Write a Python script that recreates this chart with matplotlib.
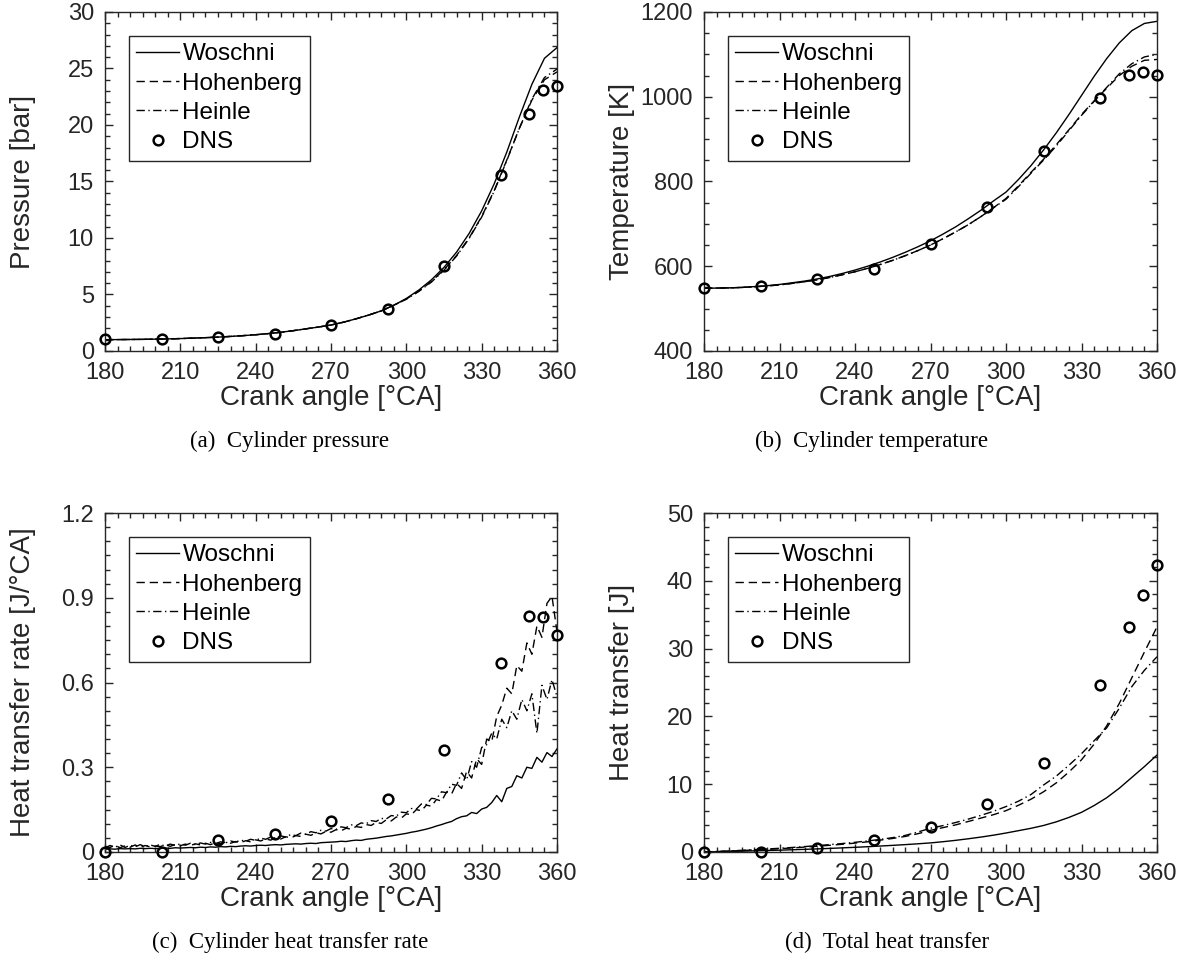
import matplotlib.pyplot as plt
import numpy as np
from matplotlib.ticker import MultipleLocator

plt.rcParams['font.family'] = ['Liberation Sans', 'DejaVu Sans']

# crank angle grid of the model curves (every 5 deg)
angle = [180, 185, 190, 195, 200, 205, 210, 215, 220, 225, 230, 235, 240, 245,
         250, 255, 260, 265, 270, 275, 280, 285, 290, 295, 300, 305, 310, 315,
         320, 325, 330, 335, 340, 345, 350, 355, 360]

# DNS sample angles
dns_angle = [180, 202.5, 225, 247.5, 270, 292.5, 315, 337.5, 348.75, 354.375, 360]

# (a) cylinder pressure [bar]
p_low = [1.00, 1.01, 1.02, 1.03, 1.05, 1.07, 1.10, 1.14, 1.18, 1.23, 1.29, 1.36,
         1.44, 1.54, 1.66, 1.80, 1.96, 2.12, 2.30, 2.55, 2.85, 3.18, 3.55, 4.05]
p_woschni = p_low + [4.65, 5.40, 6.30, 7.40, 8.75, 10.40, 12.40, 14.80, 17.60,
                     20.70, 23.60, 25.90, 26.85]
p_hohenberg = p_low + [4.60, 5.30, 6.15, 7.20, 8.45, 10.00, 11.90, 14.20, 16.90,
                       19.70, 22.20, 24.00, 24.70]
p_heinle = p_low + [4.58, 5.28, 6.10, 7.15, 8.40, 9.95, 11.85, 14.15, 16.85,
                    19.70, 22.30, 24.20, 24.95]
p_dns = [1.03, 1.03, 1.21, 1.47, 2.30, 3.70, 7.55, 15.6, 21.0, 23.1, 23.45]

# (b) cylinder temperature [K]
t_woschni = [548, 548.5, 549, 550, 552, 554, 557, 561, 565, 570, 576, 583, 591,
             600, 610, 621, 633, 646, 660, 676, 693, 712, 732, 754, 775, 805, 838,
             875, 915, 958, 1003, 1048, 1090, 1127, 1156, 1173, 1178]
t_hohenberg = [548, 548.5, 549, 550, 551.5, 553.5, 556, 559.5, 563.5, 568, 573.5,
               580, 587, 595, 604, 614, 625, 637, 650, 665, 681, 698, 717, 738,
               760, 790, 822, 853, 887, 922, 958, 990, 1020, 1050, 1072, 1086, 1088]
t_heinle = [548, 548.5, 549, 550, 551.5, 553.5, 556, 559.5, 563.5, 568, 573.5,
            580, 587, 595, 604, 614, 625, 637, 650, 665, 681, 698, 717, 738,
            758, 788, 820, 851, 884, 920, 956, 989, 1022, 1054, 1078, 1094, 1100]
t_dns = [547.5, 553, 570, 594, 653, 741, 871, 998, 1052, 1059, 1052]

# (c) heat transfer rate [J/degCA], every 2 deg
rate_angle = list(range(180, 361, 2))
q_woschni = [0.010, 0.011, 0.010, 0.012, 0.011, 0.012, 0.011, 0.013, 0.012, 0.013,
             0.012, 0.013, 0.014, 0.013, 0.015, 0.014, 0.015, 0.016, 0.015, 0.017,
             0.016, 0.018, 0.017, 0.019, 0.018, 0.020, 0.019, 0.021, 0.022, 0.021,
             0.023, 0.024, 0.023, 0.025, 0.026, 0.025, 0.027, 0.028, 0.029, 0.028,
             0.030, 0.031, 0.030, 0.033, 0.034, 0.035, 0.036, 0.038, 0.037, 0.040,
             0.042, 0.041, 0.045, 0.047, 0.049, 0.052, 0.055, 0.057, 0.060, 0.063,
             0.066, 0.070, 0.073, 0.077, 0.081, 0.086, 0.092, 0.097, 0.103, 0.108] + \
            [0.118, 0.125, 0.128, 0.140, 0.136, 0.152, 0.158, 0.175, 0.200, 0.178,
             0.225, 0.232, 0.270, 0.262, 0.300, 0.296, 0.335, 0.318, 0.352, 0.338,
             0.365]
q_hohenberg = [0.020, 0.016, 0.024, 0.015, 0.022, 0.017, 0.025, 0.016, 0.023, 0.018,
               0.021, 0.019, 0.026, 0.020, 0.027, 0.022, 0.028, 0.023, 0.029, 0.025,
               0.031, 0.026, 0.033, 0.029, 0.035, 0.031, 0.037, 0.033, 0.040, 0.036,
               0.043, 0.039, 0.046, 0.042, 0.050, 0.046, 0.054, 0.050, 0.058, 0.055,
               0.063, 0.059, 0.068, 0.064, 0.073, 0.070, 0.079, 0.075, 0.084, 0.081,
               0.090, 0.087, 0.097, 0.094, 0.105, 0.101, 0.114, 0.110, 0.124, 0.120,
               0.135, 0.132, 0.150, 0.146, 0.166, 0.162, 0.186, 0.180, 0.212, 0.205] + \
              [0.243, 0.225, 0.285, 0.262, 0.330, 0.310, 0.400, 0.390, 0.480, 0.520,
               0.580, 0.560, 0.660, 0.640, 0.740, 0.700, 0.800, 0.760, 0.880, 0.905,
               0.780]
q_heinle = [0.015, 0.023, 0.017, 0.025, 0.016, 0.024, 0.018, 0.026, 0.019, 0.025,
            0.020, 0.027, 0.021, 0.028, 0.023, 0.029, 0.024, 0.031, 0.026, 0.032,
            0.028, 0.034, 0.030, 0.036, 0.032, 0.039, 0.035, 0.042, 0.038, 0.045,
            0.041, 0.049, 0.045, 0.053, 0.049, 0.057, 0.053, 0.062, 0.058, 0.067,
            0.063, 0.072, 0.068, 0.077, 0.074, 0.083, 0.080, 0.089, 0.086, 0.096,
            0.093, 0.103, 0.100, 0.111, 0.108, 0.119, 0.117, 0.129, 0.127, 0.141,
            0.139, 0.154, 0.152, 0.170, 0.168, 0.190, 0.188, 0.213, 0.210, 0.240] + \
           [0.236, 0.280, 0.255, 0.320, 0.300, 0.370, 0.380, 0.420, 0.400, 0.470,
            0.440, 0.500, 0.470, 0.540, 0.500, 0.560, 0.420, 0.590, 0.540, 0.610,
            0.550]
q_dns = [0.0, 0.0, 0.044, 0.064, 0.111, 0.188, 0.362, 0.668, 0.836, 0.833, 0.768]

# (d) total heat transfer [J]
h_woschni = [0, 0.04, 0.08, 0.12, 0.17, 0.22, 0.27, 0.33, 0.39, 0.46, 0.53, 0.61,
             0.69, 0.78, 0.88, 0.98, 1.09, 1.21, 1.34, 1.52, 1.72, 1.95, 2.2, 2.48,
             2.8, 3.15, 3.5, 3.92, 4.45, 5.1, 5.85, 6.85, 8.0, 9.4, 11.0, 12.6, 14.3]
h_hohenberg = [0, 0.07, 0.14, 0.22, 0.30, 0.39, 0.49, 0.60, 0.72, 0.85, 0.99, 1.14,
               1.31, 1.5, 1.75, 2.0, 2.3, 2.7, 3.2, 3.6, 4.0, 4.5, 5.0, 5.5, 6.1,
               6.9, 7.8, 8.9, 10.2, 11.8, 13.6, 15.9, 18.6, 21.9, 25.7, 29.5, 33.2]
h_heinle = [0, 0.08, 0.16, 0.25, 0.34, 0.44, 0.55, 0.67, 0.80, 0.94, 1.09, 1.25,
            1.43, 1.63, 1.86, 2.12, 2.45, 2.95, 3.5, 3.9, 4.35, 4.85, 5.4, 6.0, 6.7,
            7.5, 8.5, 9.9, 11.2, 12.8, 14.5, 16.4, 18.3, 21.2, 24.4, 26.8, 28.8]
h_dns = [0.0, 0.0, 0.54, 1.7, 3.7, 7.07, 13.2, 24.7, 33.2, 37.9, 42.4]

grey = '#262626'
dash = (0, (6, 3.5))
dashdot = (0, (6, 2.5, 1, 2.5))

W, H = 1190, 961
fig = plt.figure(figsize=(W / 100, H / 100), dpi=100)


def make_axes(x0, y0, x1, y1):
    return fig.add_axes([x0 / W, 1 - y1 / H, (x1 - x0) / W, (y1 - y0) / H])


panels = [
    (make_axes(105, 12, 557, 351), angle, p_woschni, p_hohenberg, p_heinle, p_dns,
     (0, 30), 5, 1, 'Pressure [bar]', '(a)  Cylinder pressure', (289, 441)),
    (make_axes(704, 12, 1157, 351), angle, t_woschni, t_hohenberg, t_heinle, t_dns,
     (400, 1200), 200, 50, 'Temperature [K]', '(b)  Cylinder temperature', (872, 441)),
    (make_axes(105, 513, 557, 852), rate_angle, q_woschni, q_hohenberg, q_heinle, q_dns,
     (0, 1.2), 0.3, 0.05, 'Heat transfer rate [J/°CA]', '(c)  Cylinder heat transfer rate', (290, 942)),
    (make_axes(704, 513, 1157, 852), angle, h_woschni, h_hohenberg, h_heinle, h_dns,
     (0, 50), 10, 2, 'Heat transfer [J]', '(d)  Total heat transfer', (887, 942)),
]

for ax, xs, yw, yho, yhe, ydns, ylim, ymaj, ymin, ylab, cap, cpos in panels:
    ax.plot(xs, yw, color='k', lw=1.0, label='Woschni')
    ax.plot(xs, yho, color='k', lw=1.0, linestyle=dash, label='Hohenberg')
    ax.plot(xs, yhe, color='k', lw=1.0, linestyle=dashdot, label='Heinle')
    ax.plot(dns_angle, ydns, linestyle='none', marker='o', ms=7, mfc='none',
            mec='k', mew=1.8, label='DNS', clip_on=False, zorder=5)

    ax.set_xlim(180, 360)
    ax.set_ylim(*ylim)
    ax.xaxis.set_major_locator(MultipleLocator(30))
    ax.xaxis.set_minor_locator(MultipleLocator(5))
    ax.yaxis.set_major_locator(MultipleLocator(ymaj))
    ax.yaxis.set_minor_locator(MultipleLocator(ymin))
    if ymaj < 1:
        ax.set_yticks([0, 0.3, 0.6, 0.9, 1.2])
        ax.set_yticklabels(['0', '0.3', '0.6', '0.9', '1.2'])

    ax.tick_params(which='both', direction='in', top=True, right=True,
                   color=grey, labelcolor=grey, labelsize=17, width=1.0, pad=8)
    ax.tick_params(which='major', length=6)
    ax.tick_params(which='minor', length=3.5)
    for s in ax.spines.values():
        s.set_color(grey)
        s.set_linewidth(1.0)

    ax.set_xlabel('Crank angle [°CA]', fontsize=20, color=grey, labelpad=1)
    ax.set_ylabel(ylab, fontsize=20, color=grey, va='center')
    ax.yaxis.set_label_coords(-0.182, 0.5)

    leg = ax.legend(loc='upper left', bbox_to_anchor=(24 / 452, 1 - 24 / 339),
                    borderaxespad=0, fancybox=False, framealpha=1,
                    edgecolor=grey, fontsize=17.5, handlelength=1.75,
                    handletextpad=0.15, labelspacing=0.3, borderpad=0.3,
                    numpoints=1)
    leg.get_frame().set_linewidth(1.0)

    fig.text(cpos[0] / W, 1 - cpos[1] / H, cap, ha='center', va='center',
             fontsize=16.5, family=['Liberation Serif', 'DejaVu Serif'])

fig.savefig('out.png', dpi=100)
